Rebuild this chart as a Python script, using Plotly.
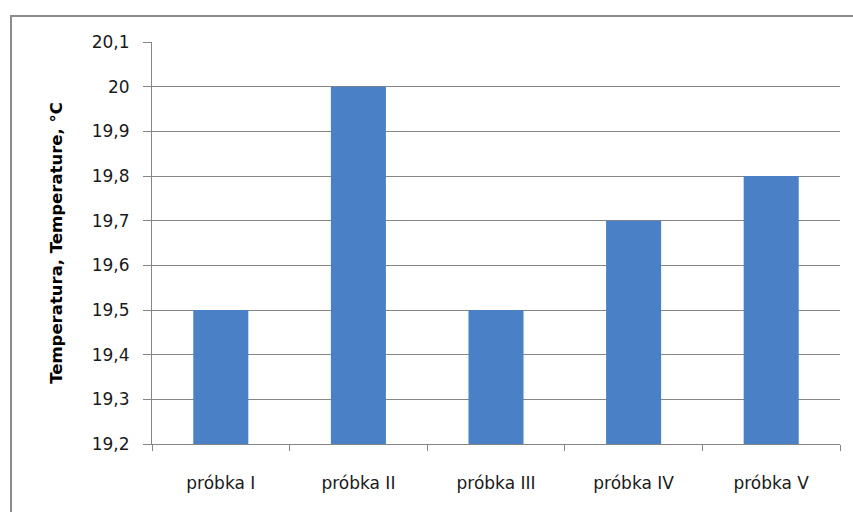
import plotly.graph_objects as go

# Sample labels and measured temperatures
categories = ["próbka I", "próbka II", "próbka III", "próbka IV", "próbka V"]
temperatures = [19.5, 20.0, 19.5, 19.7, 19.8]

y_title = "Temperatura, Temperature, °C"
y_min, y_max, y_step = 19.2, 20.1, 0.1

BAR_COLOR = "#4A80C6"
GRID_COLOR = "#868686"
FONT = "'DejaVu Sans', sans-serif"

fig = go.Figure(
    go.Bar(
        x=categories,
        y=temperatures,
        marker=dict(color=BAR_COLOR, line=dict(width=0)),
    )
)

L, R, T, B = 152, 13, 42, 68
W, H = 853, 512
pw, ph = W - L - R, H - T - B

fig.update_layout(
    width=W,
    height=H,
    margin=dict(l=L, r=R, t=T, b=B, pad=0),
    paper_bgcolor="white",
    plot_bgcolor="white",
    separators=", ",
    bargap=0.6,
    showlegend=False,
    font=dict(family=FONT, size=17, color="#1A1A1A"),
    xaxis=dict(
        type="category",
        showgrid=False,
        showline=True,
        linecolor=GRID_COLOR,
        linewidth=1,
        ticks="outside",
        tickson="boundaries",
        ticklen=6,
        tickcolor=GRID_COLOR,
        tickfont=dict(size=17, color="#1A1A1A"),
        ticklabelstandoff=24,
    ),
    yaxis=dict(
        range=[y_min, y_max],
        dtick=y_step,
        tick0=y_min,
        showgrid=True,
        gridcolor=GRID_COLOR,
        gridwidth=1,
        zeroline=False,
        showline=True,
        linecolor=GRID_COLOR,
        linewidth=1,
        ticks="outside",
        ticklen=8,
        tickcolor=GRID_COLOR,
        tickfont=dict(size=17, color="#1A1A1A"),
        ticklabelstandoff=10,
        title=dict(
            text=y_title,
            font=dict(size=16.5, color="#000000", family=FONT, weight="bold"),
            standoff=24,
        ),
    ),
    shapes=[
        # outer chart frame (extends past the right and bottom edges)
        dict(
            type="rect",
            xref="paper",
            yref="paper",
            x0=(11 - L) / pw,
            x1=(W + 10 - L) / pw,
            y0=(T + ph - (H + 10)) / ph,
            y1=(T + ph - 16) / ph,
            line=dict(color="#8C8C8C", width=2),
            layer="below",
        )
    ],
)

fig.write_html("out.html")
